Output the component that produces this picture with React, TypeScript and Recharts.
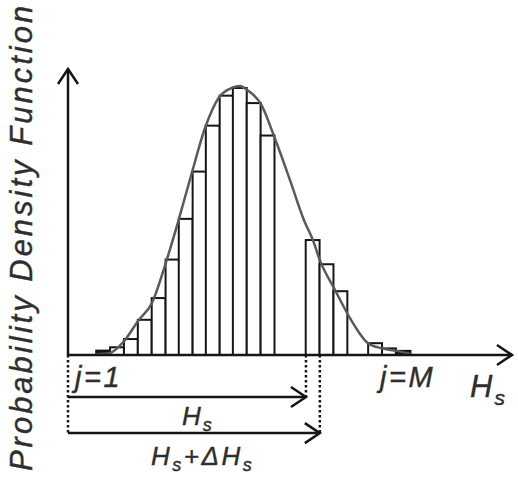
import { Bar, ComposedChart, Line, ReferenceLine, XAxis, YAxis } from "recharts"

// histogram bins (centre of each bin in Hs units) and their heights
const BIN_CENTERS = [2.55, 3.55, 4.55, 5.55, 6.55, 7.55, 8.5, 9.5, 10.45, 11.45, 12.4, 13.4, 14.4, 17.65, 18.65, 19.65, 22.15, 23.15, 24.2]
const BIN_DENSITY = [1.6, 2.8, 5.8, 12.8, 20.7, 34.7, 49.5, 66.7, 83.4, 94.3, 97.1, 91.6, 79.8, 41.8, 33.0, 23.2, 4.3, 2.4, 1.5]

// fitted pdf curve
const CURVE_H = [2.0, 3.0, 4.05, 5.05, 6.05, 7.0, 7.95, 8.9, 9.9, 10.9, 11.8, 12.4, 12.9, 13.9, 14.9, 16.0, 17.0, 17.65, 18.15, 19.25, 20.2, 21.6, 22.55, 23.7, 24.7]
const CURVE_PDF = [0.2, 0.7, 5.1, 12.4, 18.9, 32.7, 48.7, 65.8, 82.9, 93.8, 97.1, 97.8, 96.4, 91.3, 78.9, 63.6, 49.1, 41.8, 34.5, 23.6, 14.5, 4.4, 2.5, 1.5, 0.4]

const HS = 17.15
const DELTA_HS = 1.0
const X_MAX = 32
const Y_MAX = 104
// rows for the two span arrows under the axis (in density units, below zero)
const ROW_HS = -15.3
const ROW_HS_DH = -28.4

const W = 518
const H = 478
const MARGIN = { top: 69, right: 6, bottom: 123, left: 68 }
const UNIT_PX = (W - MARGIN.left - MARGIN.right) / X_MAX

const INK = "#151515"
const CURVE = "#5a5a5a"
const TEXT = "#2e2e2e"
const FONT = "'Liberation Sans', Arial, sans-serif"

const bins = BIN_CENTERS.map((h, i) => ({ h, p: BIN_DENSITY[i] }))
const curve = CURVE_H.map((h, i) => ({ h, p: CURVE_PDF[i] }))

function BinRect(props: any) {
  const { x, y, width, height } = props
  const cx = x + width / 2
  return (
    <rect
      x={cx - UNIT_PX / 2}
      y={y}
      width={UNIT_PX}
      height={height}
      fill={height < 5 ? INK : "#fff"}
      stroke={INK}
      strokeWidth={2}
    />
  )
}

function Arrow(props: any) {
  const { x1, y1, x2, y2 } = props
  return <line x1={x1} y1={y1} x2={x2} y2={y2} stroke={INK} strokeWidth={2.5} markerEnd="url(#chev)" />
}

const dotted = { stroke: INK, strokeWidth: 2.5, strokeDasharray: "2.5 2.5", ifOverflow: "visible" as const }

export default function App() {
  return (
    <div style={{ position: "absolute", left: 0, top: 0, width: W, height: H, background: "#fff" }}>
      <ComposedChart width={W} height={H} data={bins} margin={MARGIN}>
        <defs>
          <marker
            id="chev"
            markerUnits="userSpaceOnUse"
            markerWidth={24}
            markerHeight={26}
            refX={17}
            refY={12}
            orient="auto"
            style={{ overflow: "visible" }}
          >
            <path d="M2,2 L17,12 L2,22" fill="none" stroke={INK} strokeWidth={2.5} />
          </marker>
        </defs>
        <XAxis dataKey="h" type="number" domain={[0, X_MAX]} allowDataOverflow hide />
        <YAxis type="number" domain={[0, Y_MAX]} allowDataOverflow hide />
        <Line
          data={curve}
          dataKey="p"
          type="monotone"
          stroke={CURVE}
          strokeWidth={2.5}
          dot={false}
          isAnimationActive={false}
        />
        <Bar dataKey="p" barSize={10} shape={BinRect} isAnimationActive={false} />
        {/* axes with arrow heads */}
        <ReferenceLine segment={[{ x: 0, y: 0 }, { x: X_MAX, y: 0 }]} ifOverflow="visible" shape={Arrow} />
        <ReferenceLine segment={[{ x: 0, y: 0 }, { x: 0, y: Y_MAX }]} ifOverflow="visible" shape={Arrow} />
        {/* Hs and Hs+dHs markers */}
        <ReferenceLine segment={[{ x: 0, y: 0 }, { x: 0, y: ROW_HS_DH }]} {...dotted} />
        <ReferenceLine segment={[{ x: HS, y: 0 }, { x: HS, y: ROW_HS }]} {...dotted} />
        <ReferenceLine segment={[{ x: HS + DELTA_HS, y: 0 }, { x: HS + DELTA_HS, y: ROW_HS_DH }]} {...dotted} />
        <ReferenceLine segment={[{ x: 0, y: ROW_HS }, { x: HS, y: ROW_HS }]} ifOverflow="visible" shape={Arrow} />
        <ReferenceLine
          segment={[{ x: 0, y: ROW_HS_DH }, { x: HS + DELTA_HS, y: ROW_HS_DH }]}
          ifOverflow="visible"
          shape={Arrow}
        />
      </ComposedChart>
      <svg
        width={W}
        height={H}
        style={{ position: "absolute", left: 0, top: 0, pointerEvents: "none" }}
        fontFamily={FONT}
        fontStyle="italic"
        fill={TEXT}
        stroke={TEXT}
        strokeWidth={0.4}
      >
        <text transform="translate(32,237) rotate(-90)" textAnchor="middle" fontSize={31} letterSpacing={3}>
          Probability Density Function
        </text>
        <text x={75} y={387} fontSize={29} letterSpacing={2.5}>
          j=1
        </text>
        <text x={380} y={387} fontSize={29} letterSpacing={2.5}>
          j=M
        </text>
        <text x={470} y={397} fontSize={31}>
          H<tspan fontSize={21} dx={2} dy={8}>s</tspan>
        </text>
        <text x={182} y={425} fontSize={26}>
          H<tspan fontSize={18} dx={2} dy={6}>s</tspan>
        </text>
        <text x={151} y={465} fontSize={26} letterSpacing={2.5}>
          H<tspan fontSize={18} dy={6}>s</tspan>
          <tspan dy={-6}>+ΔH</tspan>
          <tspan fontSize={18} dy={6}>s</tspan>
        </text>
      </svg>
    </div>
  )
}
